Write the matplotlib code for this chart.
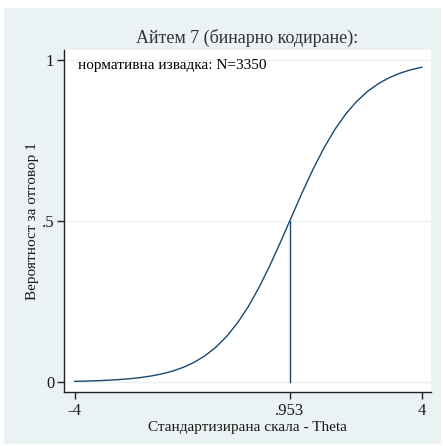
import matplotlib
matplotlib.use('Agg')
import matplotlib.pyplot as plt

plt.rcParams['font.family'] = ['Liberation Serif', 'DejaVu Serif']

# Item characteristic curve
theta = [-4.0, -3.75, -3.5, -3.25, -3.0, -2.75, -2.5, -2.25, -2.0, -1.75, -1.5,
         -1.25, -1.0, -0.75, -0.5, -0.25, 0.0, 0.25, 0.5, 0.75, 1.0, 1.25, 1.5,
         1.75, 2.0, 2.25, 2.5, 2.75, 3.0, 3.25, 3.5, 3.75, 4.0]
prob = [0.0021, 0.0029, 0.0040, 0.0054, 0.0074, 0.0100, 0.0136, 0.0185, 0.0250,
        0.0338, 0.0456, 0.0611, 0.0815, 0.1079, 0.1416, 0.1836, 0.2347, 0.2948,
        0.3631, 0.4373, 0.5145, 0.5910, 0.6633, 0.7287, 0.7855, 0.8331, 0.8719,
        0.9028, 0.9268, 0.9452, 0.9592, 0.9698, 0.9776]
difficulty = 0.953
x_ticks = [-4, 0.953, 4]
x_tick_labels = ['-4', '.953', '4']
y_ticks = [0, 0.5, 1]
y_tick_labels = ['0', '.5', '1']

bg = '#eaf2f3'
navy = '#1a476f'
txt = '#1a1a1a'

fig = plt.figure(figsize=(4.43, 4.46), dpi=100)
fig.patch.set_facecolor('white')

# light outer frame (Stata style)
back = fig.add_axes([4 / 443, 2 / 446, 437 / 443, 436 / 446])
back.set_facecolor(bg)
back.set_xticks([])
back.set_yticks([])
for s in back.spines.values():
    s.set_visible(False)

ax = fig.add_axes([64 / 443, 54 / 446, 367 / 443, 342 / 446])
ax.set_facecolor('white')

ax.plot(theta, prob, color=navy, lw=1.0)
ax.plot([difficulty, difficulty], [0, 0.5], color=navy, lw=1.0)

ax.set_xlim(-4.25, 4.21)
ax.set_ylim(-0.031, 1.031)
ax.set_xticks(x_ticks)
ax.set_xticklabels(x_tick_labels)
ax.set_yticks(y_ticks)
ax.set_yticklabels(y_tick_labels)
ax.grid(axis='y', color=bg, lw=1)
ax.set_axisbelow(True)

for s in ['top', 'right']:
    ax.spines[s].set_visible(False)
for s in ['left', 'bottom']:
    ax.spines[s].set_color('#222222')
    ax.spines[s].set_linewidth(1.0)
ax.tick_params(axis='both', direction='out', length=5, width=1,
               colors='#222222', labelsize=12, labelcolor=txt)
ax.tick_params(axis='x', pad=3)
ax.tick_params(axis='y', pad=2)

ax.set_xlabel('Стандартизирана скала - Theta', fontsize=11, color=txt, labelpad=1)
ax.set_ylabel('Вероятност за отговор 1', fontsize=11, color=txt, labelpad=2)
ax.set_title('Айтем 7 (бинарно кодиране):', fontsize=13, color='#333333', pad=5)
ax.text(-3.93, 0.984, 'нормативна извадка: N=3350', fontsize=11, color='black',
        ha='left', va='center')

fig.savefig('out.png', dpi=100, facecolor=fig.get_facecolor())
